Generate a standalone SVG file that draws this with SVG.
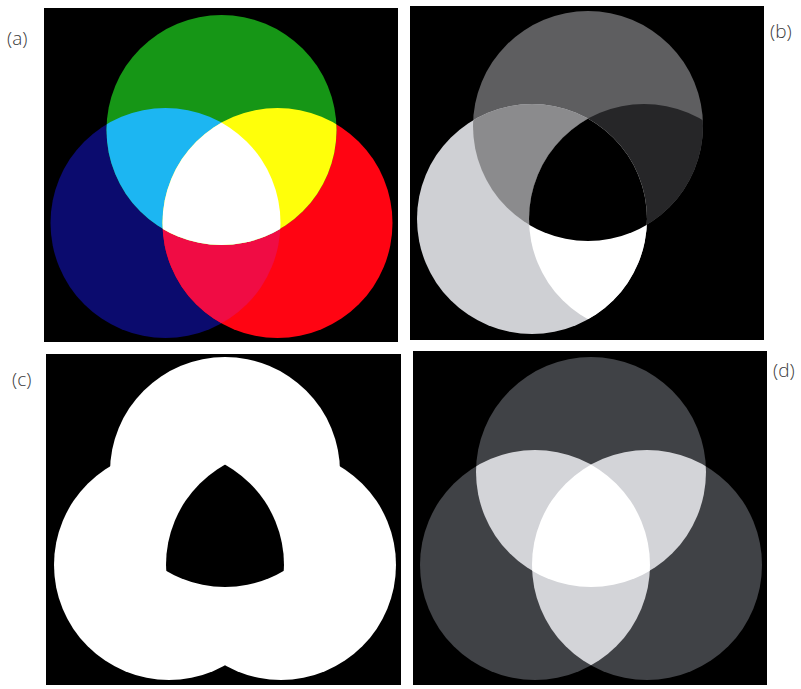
<svg xmlns="http://www.w3.org/2000/svg" width="801" height="689" viewBox="0 0 801 689">
  <style>
    .lbl { font-family: "Open Sans", "Liberation Sans", sans-serif; font-weight: 300; font-size: 19px; fill: #3a3a3a; }
    .panel { fill: #000; }
  </style>
  <defs>
    <circle id="cT" cx="0" cy="0" r="115"/>
    <circle id="cL" cx="-56" cy="93" r="115"/>
    <circle id="cR" cx="56" cy="93" r="115"/>
    <clipPath id="clipT"><use href="#cT"/></clipPath>
    <clipPath id="clipL"><use href="#cL"/></clipPath>
    <clipPath id="clipR"><use href="#cR"/></clipPath>
  </defs>
  <rect width="801" height="689" fill="#fff"/>

  <!-- (a) -->
  <g id="panel-a">
    <rect class="panel" x="44" y="8" width="354" height="334"/>
    <g transform="translate(221.5,130)">
      <use href="#cL" fill="#0b0b6e"/>
      <use href="#cR" fill="#ff0412"/>
      <use href="#cT" fill="#169616"/>
      <use href="#cR" fill="#f00c44" clip-path="url(#clipL)"/>
      <use href="#cT" fill="#1cb6f2" clip-path="url(#clipL)"/>
      <use href="#cT" fill="#ffff0a" clip-path="url(#clipR)"/>
      <g clip-path="url(#clipR)"><use href="#cT" fill="#ffffff" clip-path="url(#clipL)"/></g>
    </g>
    <text class="lbl" x="7" y="45">(a)</text>
  </g>

  <!-- (b) -->
  <g id="panel-b">
    <rect class="panel" x="410" y="6" width="354" height="334"/>
    <g transform="translate(588,126)">
      <use href="#cT" fill="#5e5e60"/>
      <use href="#cL" fill="#cfd0d4"/>
      <use href="#cT" fill="#8b8b8d" clip-path="url(#clipL)"/>
      <use href="#cT" fill="#262628" clip-path="url(#clipR)"/>
      <use href="#cL" fill="#ffffff" clip-path="url(#clipR)"/>
      <g clip-path="url(#clipR)"><use href="#cT" fill="#000000" clip-path="url(#clipL)"/></g>
    </g>
    <text class="lbl" x="770" y="38">(b)</text>
  </g>

  <!-- (c) -->
  <g id="panel-c">
    <rect class="panel" x="46" y="354" width="355" height="331"/>
    <g transform="translate(225,472)">
      <use href="#cT" fill="#ffffff"/>
      <use href="#cL" fill="#ffffff"/>
      <use href="#cR" fill="#ffffff"/>
      <g clip-path="url(#clipR)"><use href="#cT" fill="#000000" clip-path="url(#clipL)"/></g>
    </g>
    <text class="lbl" x="12" y="386">(c)</text>
  </g>

  <!-- (d) -->
  <g id="panel-d">
    <rect class="panel" x="413" y="351" width="354" height="334"/>
    <g transform="translate(591,472)">
      <use href="#cT" fill="#404246"/>
      <use href="#cL" fill="#404246"/>
      <use href="#cR" fill="#404246"/>
      <use href="#cT" fill="#d3d4d8" clip-path="url(#clipL)"/>
      <use href="#cT" fill="#d3d4d8" clip-path="url(#clipR)"/>
      <use href="#cL" fill="#d3d4d8" clip-path="url(#clipR)"/>
      <g clip-path="url(#clipR)"><use href="#cT" fill="#ffffff" clip-path="url(#clipL)"/></g>
    </g>
    <text class="lbl" x="773" y="377">(d)</text>
  </g>
</svg>
